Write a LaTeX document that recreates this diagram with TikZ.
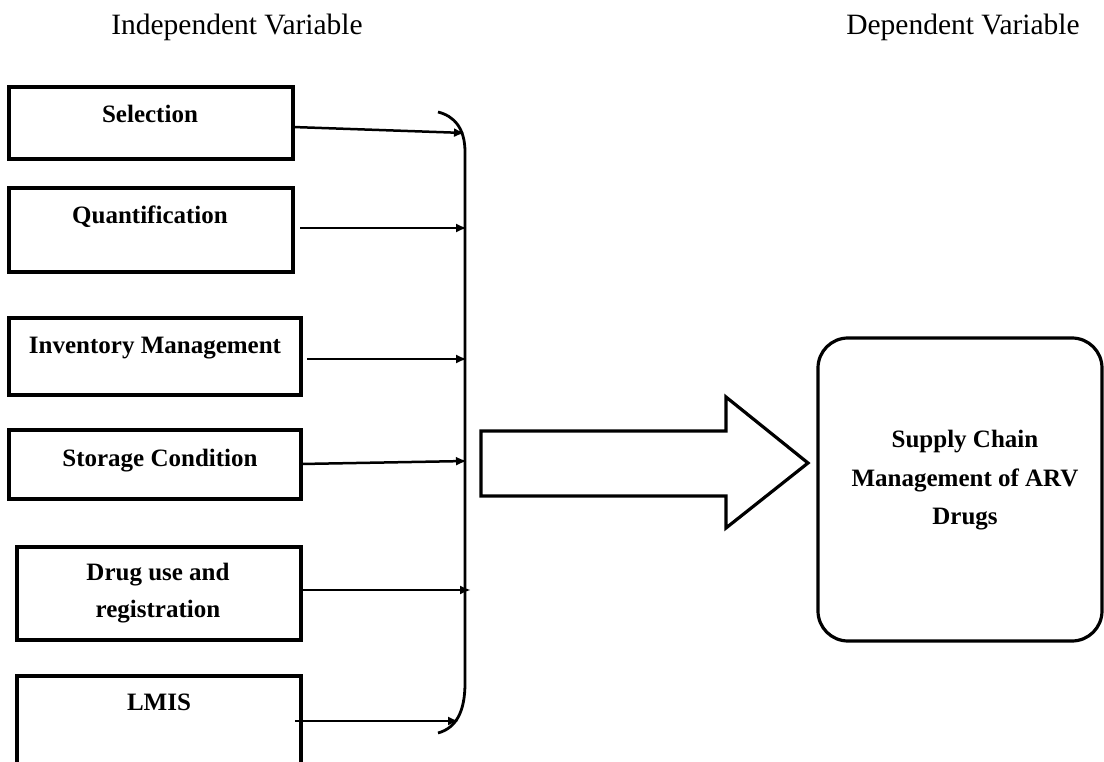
\documentclass[tikz,border=0pt]{standalone}
\usepackage{fontspec}
\setmainfont{Liberation Serif}
\usetikzlibrary{arrows.meta}
\begin{document}
\begin{tikzpicture}[x=1pt,y=-1pt,
  box/.style={draw, line width=3.2pt, inner sep=0pt},
  lbl/.style={anchor=base, font=\bfseries\fontsize{25}{38}\selectfont, inner sep=0pt},
  hdr/.style={anchor=base, font=\fontsize{29.5}{35}\selectfont, inner sep=0pt},
  conn/.style={line width=2.5pt, -{Latex[length=11pt,width=9pt]}},
  brace/.style={line width=2.8pt},
  bigarrow/.style={draw, line width=3.2pt, line join=miter}
]
\useasboundingbox (0,0) rectangle (1104,762);

% headers
\node[hdr] (h1) at (237,35) {Independent Variable};
\node[hdr] (h2) at (963,35) {Dependent Variable};

% left boxes
\node[box, minimum width=284pt, minimum height=72pt] (b1) at (151,123) {};
\node[box, minimum width=284pt, minimum height=84pt] (b2) at (151,230) {};
\node[box, minimum width=292pt, minimum height=77pt] (b3) at (155,356.5) {};
\node[box, minimum width=292pt, minimum height=69pt] (b4) at (155,464.5) {};
\node[box, minimum width=284pt, minimum height=93pt] (b5) at (159,593.5) {};
\node[box, minimum width=284pt, minimum height=94pt] (b6) at (159,723) {};

% labels
\node[lbl] (t1) at (150,123) {Selection};
\node[lbl] (t2) at (150,224) {Quantification};
\node[lbl] (t3) at (155,353) {Inventory Management};
\node[lbl] (t4) at (160,466) {Storage Condition};
\node[lbl] (t5a) at (158,580) {Drug use and};
\node[lbl] (t5b) at (158,617) {registration};
\node[lbl] (t6) at (159,710) {LMIS};

% right rounded box
\node[box, rounded corners=30pt, minimum width=284pt, minimum height=303pt] (r) at (960,489.5) {};
\node[lbl] (r1) at (965,447) {Supply Chain};
\node[lbl] (r2) at (965,486) {Management of ARV};
\node[lbl] (r3) at (965,524) {Drugs};

% brace
\draw[brace] (438,112) .. controls (454,116) and (465,128) .. (465,152)
  -- (465,683) .. controls (465,712) and (456,728) .. (438,733);

% connector ends
\coordinate (s1) at (293,127); \coordinate (e1) at (465,133);
\coordinate (s2) at (300,228); \coordinate (e2) at (467,228);
\coordinate (s3) at (307,359); \coordinate (e3) at (467,359);
\coordinate (s4) at (301,464); \coordinate (e4) at (467,461);
\coordinate (s5) at (301,590); \coordinate (e5) at (471,590);
\coordinate (s6) at (295,721); \coordinate (e6) at (459,721);

\draw[conn] (s1) -- (e1);
\draw[conn] (s2) -- (e2);
\draw[conn] (s3) -- (e3);
\draw[conn] (s4) -- (e4);
\draw[conn] (s5) -- (e5);
\draw[conn] (s6) -- (e6);

% big block arrow
\draw[bigarrow] (481,431) -- (726,431) -- (726,397) -- (808,463) -- (726,528)
  -- (726,496) -- (481,496) -- cycle;
\end{tikzpicture}
\end{document}
